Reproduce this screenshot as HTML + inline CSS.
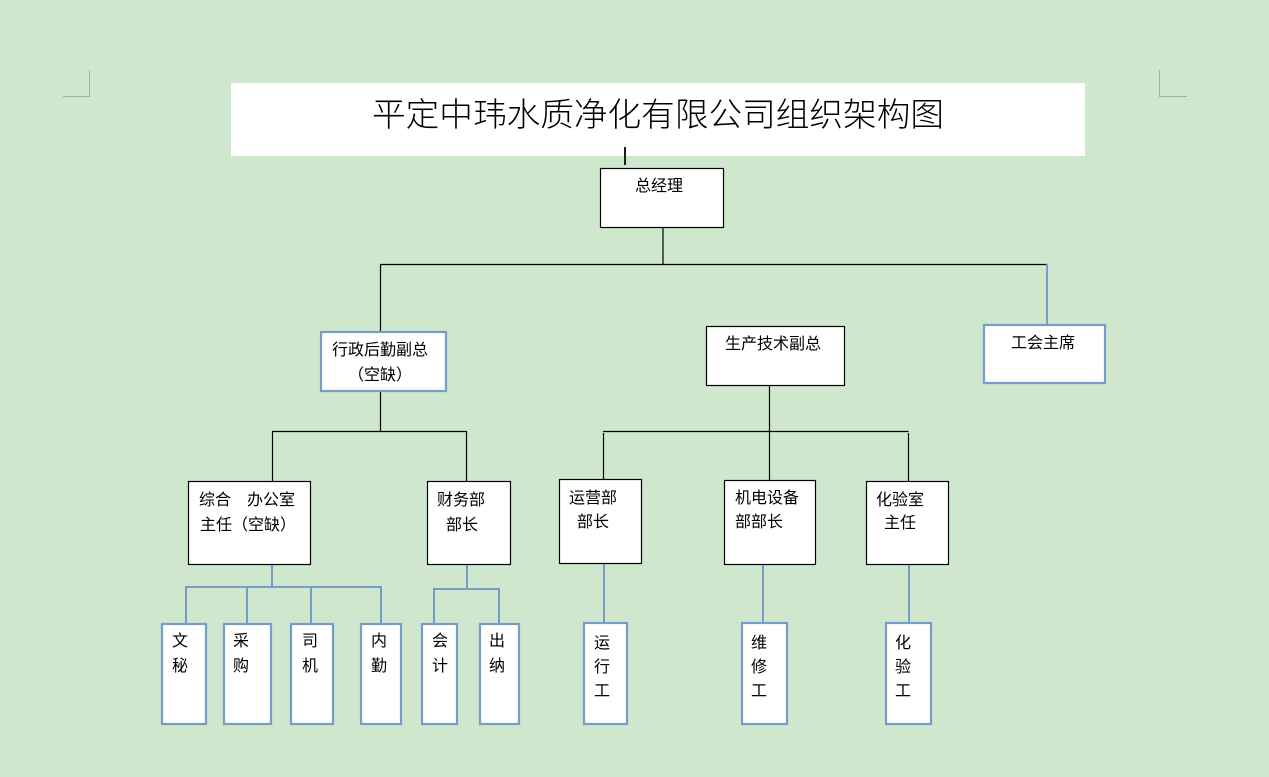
<!DOCTYPE html>
<html><head><meta charset="utf-8"><style>
html,body{margin:0;padding:0;background:#cfe7cc;}
svg{display:block;}
text{font-family:"Liberation Sans","Noto Sans CJK SC",sans-serif;font-size:16px;fill:#000;}
</style></head><body>
<svg width="1269" height="777" viewBox="0 0 1269 777" xmlns="http://www.w3.org/2000/svg">
<rect x="0" y="0" width="1269" height="777" fill="#cfe7cc"/>
<!-- corner marks -->
<g stroke="#9fb39b" stroke-width="1" fill="none">
<path d="M89.5 70 V96.5 H63"/>
<path d="M1159.5 70 V96.5 H1187"/>
</g>
<!-- title -->
<rect x="231" y="83" width="854" height="73" fill="#fff"/>
<text x="372" y="126" textLength="572" lengthAdjust="spacingAndGlyphs" style="font-size:33px;font-weight:300;">平定中玮水质净化有限公司组织架构图</text>
<line x1="625" y1="147" x2="625" y2="165" stroke="#231a2a" stroke-width="2"/>

<!-- black connectors -->
<g stroke="#000" stroke-width="1.2" fill="none">
<path d="M663 228 V264.5"/>
<path d="M380 264.5 H1047"/>
<path d="M380.5 264 V331"/>
<path d="M380.5 392 V431"/>
<path d="M272 431.5 H466.5"/>
<path d="M272.5 431 V481"/>
<path d="M466.5 431 V481"/>
<path d="M769.5 386 V480"/>
<path d="M603 431.5 H908.5"/>
<path d="M603.5 433 V479"/>
<path d="M908.5 433 V481"/>
</g>
<!-- blue connectors -->
<g stroke="#769dc9" stroke-width="2" fill="none">
<path d="M1047 264 V324"/>
<path d="M272 565 V587"/>
<path d="M186 587 H381"/>
<path d="M186 586 V623"/>
<path d="M247 586 V623"/>
<path d="M311 586 V623"/>
<path d="M381 586 V623"/>
<path d="M467 565 V589"/>
<path d="M434 589 H499"/>
<path d="M434 588 V623"/>
<path d="M499 588 V623"/>
<path d="M604 564 V622"/>
<path d="M763 565 V622"/>
<path d="M909 565 V622"/>
</g>

<!-- black boxes -->
<g fill="#fff" stroke="#000" stroke-width="1.2">
<rect x="600.5" y="168.5" width="123" height="59"/>
<rect x="706.5" y="326.5" width="138" height="59"/>
<rect x="188.5" y="481.5" width="122" height="83"/>
<rect x="427.5" y="481.5" width="83" height="83"/>
<rect x="559.5" y="479.5" width="82" height="84"/>
<rect x="724.5" y="480.5" width="91" height="84"/>
<rect x="866.5" y="481.5" width="82" height="83"/>
</g>
<!-- blue boxes -->
<g fill="#fff" stroke="#769dc9" stroke-width="2.2">
<rect x="321" y="332" width="125" height="59"/>
<rect x="984" y="325" width="121" height="58"/>
<rect x="162" y="624" width="44" height="100"/>
<rect x="224" y="624" width="47" height="100"/>
<rect x="291" y="624" width="42" height="100"/>
<rect x="361" y="624" width="40" height="100"/>
<rect x="422" y="624" width="35" height="100"/>
<rect x="480" y="624" width="39" height="100"/>
<rect x="584" y="623" width="43" height="101"/>
<rect x="742" y="623" width="45" height="101"/>
<rect x="886" y="623" width="45" height="101"/>
</g>

<!-- labels -->
<text x="635" y="191">总经理</text>
<text x="332" y="355">行政后勤副总</text>
<text x="348" y="380">（空缺）</text>
<text x="725" y="349">生产技术副总</text>
<text x="1011" y="348">工会主席</text>

<text x="199" y="505">综合　办公室</text>
<text x="200" y="530">主任（空缺）</text>
<text x="437" y="505">财务部</text>
<text x="446" y="530">部长</text>
<text x="569" y="503">运营部</text>
<text x="577" y="527">部长</text>
<text x="735" y="503">机电设备</text>
<text x="735" y="527">部部长</text>
<text x="876" y="505">化验室</text>
<text x="884" y="528">主任</text>

<text x="172" y="646">文</text><text x="172" y="671">秘</text>
<text x="233" y="646">采</text><text x="233" y="671">购</text>
<text x="302" y="646">司</text><text x="302" y="671">机</text>
<text x="371" y="646">内</text><text x="371" y="671">勤</text>
<text x="432" y="646">会</text><text x="432" y="671">计</text>
<text x="489" y="646">出</text><text x="489" y="671">纳</text>
<text x="594" y="648">运</text><text x="594" y="672">行</text><text x="594" y="696">工</text>
<text x="751" y="648">维</text><text x="751" y="672">修</text><text x="751" y="696">工</text>
<text x="895" y="648">化</text><text x="895" y="672">验</text><text x="895" y="696">工</text>
</svg>
</body></html>
